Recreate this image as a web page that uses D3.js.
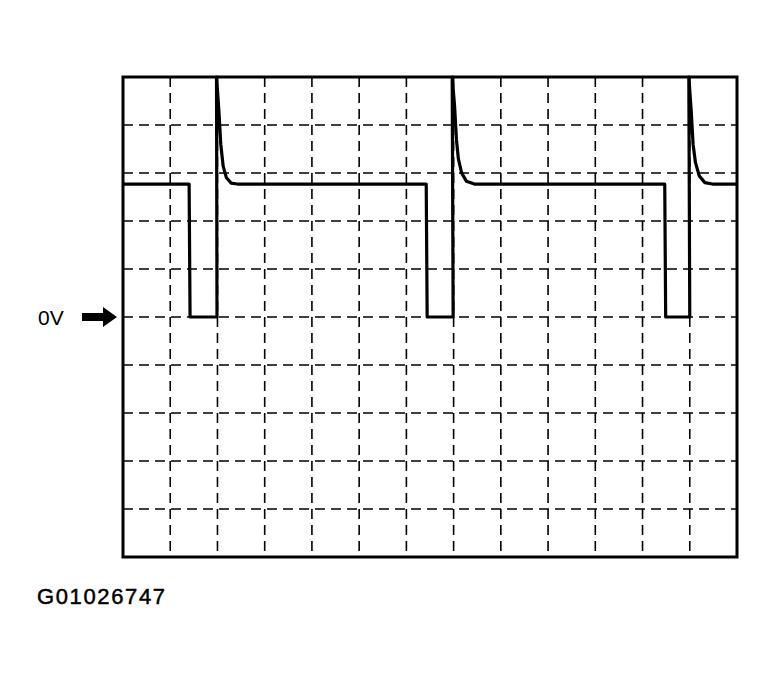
<!DOCTYPE html>
<html>
<head>
<meta charset="utf-8">
<script src="https://cdn.jsdelivr.net/npm/d3@7"></script>
<style>
    body { margin: 0; background: #fff; }
    text { font-family: "Liberation Sans", Arial, sans-serif; fill: #000; }
</style>
</head>
<body>
<div id="scope-vis"></div>
<script>
// trace, x in divisions (0..13), y in volts/div (-5..5)
var traceTime = [0, 1.40, 1.42, 1.99, 1.98, 2.03, 2.07, 2.12, 2.19, 2.29, 2.42,
    6.42, 6.44, 6.99, 6.97, 7.02, 7.06, 7.10, 7.17, 7.27, 7.44,
    11.47, 11.49, 12.00, 11.98, 12.03, 12.07, 12.12, 12.20, 12.32, 12.48, 13];
var traceVolt = [2.77, 2.77, 0, 0, 5, 4.3, 3.6, 3.15, 2.9, 2.79, 2.77,
    2.77, 0, 0, 5, 4.4, 3.7, 3.3, 3.0, 2.83, 2.77,
    2.77, 0, 0, 5, 4.3, 3.6, 3.22, 2.94, 2.8, 2.77, 2.77];

var zeroLabel = "0V";
var figureId = "G01026747";

/*
 * ScopeVis - draws the scope grid and the trace
 * @param _parentElement -- id of the element to draw in
 */
ScopeVis = function (_parentElement) {
    this.parentElement = _parentElement;
    this.initVis();
}

ScopeVis.prototype.initVis = function () {
    var vis = this;

    vis.margin = { top: 77, right: 39, bottom: 122, left: 123 };
    vis.width = 776 - vis.margin.left - vis.margin.right;
    vis.height = 679 - vis.margin.top - vis.margin.bottom;

    vis.svg = d3.select("#" + vis.parentElement).append("svg")
        .attr("width", 776)
        .attr("height", 679);

    vis.g = vis.svg.append("g")
        .attr("transform", "translate(" + vis.margin.left + "," + vis.margin.top + ")");

    vis.x = d3.scaleLinear().domain([0, 13]).range([0, vis.width]);
    vis.y = d3.scaleLinear().domain([-5, 5]).range([vis.height, 0]);

    vis.updateVis();
}

ScopeVis.prototype.updateVis = function () {
    var vis = this;

    // dashed graticule
    var cols = vis.x.ticks(13).filter(function (d) { return d > 0 && d < 13; });
    var rows = vis.y.ticks(10).filter(function (d) { return d > -5 && d < 5; });

    vis.g.selectAll(".vgrid").data(cols).enter().append("line")
        .attr("class", "vgrid")
        .attr("x1", function (d) { return vis.x(d); })
        .attr("x2", function (d) { return vis.x(d); })
        .attr("y1", 0).attr("y2", vis.height)
        .attr("stroke", "#000").attr("stroke-width", 1.6)
        .attr("stroke-dasharray", "10,6");

    vis.g.selectAll(".hgrid").data(rows).enter().append("line")
        .attr("class", "hgrid")
        .attr("y1", function (d) { return vis.y(d); })
        .attr("y2", function (d) { return vis.y(d); })
        .attr("x1", 0).attr("x2", vis.width)
        .attr("stroke", "#000").attr("stroke-width", 1.6)
        .attr("stroke-dasharray", "10,6");

    // trace
    var pts = traceTime.map(function (t, i) { return [t, traceVolt[i]]; });
    var line = d3.line()
        .x(function (d) { return vis.x(d[0]); })
        .y(function (d) { return vis.y(d[1]); });

    vis.g.append("path")
        .datum(pts)
        .attr("d", line)
        .attr("fill", "none")
        .attr("stroke", "#000")
        .attr("stroke-width", 3.2)
        .attr("stroke-linejoin", "round");

    // frame
    vis.g.append("rect")
        .attr("width", vis.width).attr("height", vis.height)
        .attr("fill", "none").attr("stroke", "#000").attr("stroke-width", 3);

    // 0V marker
    var y0 = vis.y(0);
    vis.svg.append("text")
        .attr("x", 38).attr("y", vis.margin.top + y0 + 8)
        .attr("font-size", 21)
        .text(zeroLabel);

    var ax = vis.margin.left, ay = vis.margin.top + y0;
    vis.svg.append("path")
        .attr("d", "M" + (ax - 41) + "," + (ay - 4) + "H" + (ax - 20) + "V" + (ay - 10) +
            "L" + (ax - 6) + "," + ay + "L" + (ax - 20) + "," + (ay + 10) + "V" + (ay + 4) +
            "H" + (ax - 41) + "Z")
        .attr("fill", "#000");

    // figure id
    vis.svg.append("text")
        .attr("x", 37).attr("y", 604)
        .attr("font-size", 22)
        .attr("stroke", "#000").attr("stroke-width", 0.5)
        .attr("textLength", 128)
        .attr("lengthAdjust", "spacing")
        .text(figureId);
}

var scopeVis = new ScopeVis("scope-vis");
</script>
</body>
</html>
